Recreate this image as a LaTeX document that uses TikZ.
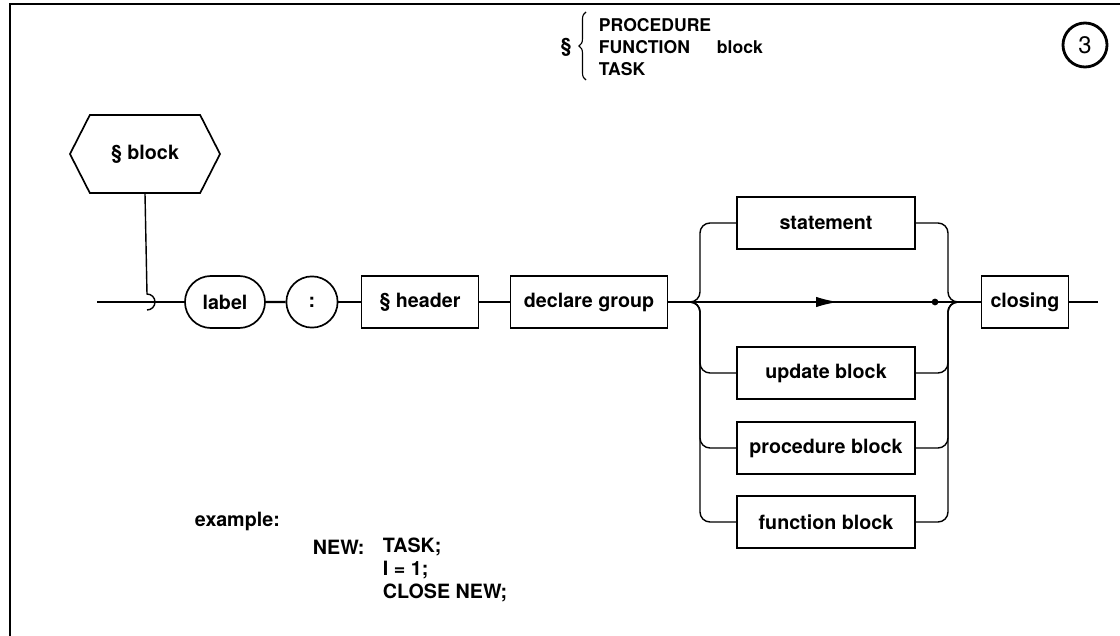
\documentclass[tikz,border=0pt]{standalone}
\usepackage{fontspec}
\setmainfont{TeX Gyre Heros}
\usetikzlibrary{shapes.misc, shapes.symbols, decorations.pathreplacing, arrows.meta}

\begin{document}
\begin{tikzpicture}[x=0.025cm, y=-0.025cm,
    font=\fontsize{14}{16}\selectfont\bfseries,
    box/.style={draw, line width=1.2pt, minimum height=1.3cm, inner sep=0pt},
    rail/.style={line width=1pt, rounded corners=0.25cm},
    head/.style={anchor=west, font=\fontsize{12.5}{15}\selectfont\bfseries}]
    \useasboundingbox (0,0) rectangle (1120,636);

    % Frame
    \draw [line width=1.4pt] (1120,4) -- (10,4) -- (10,636);

    % Title
    \node (sect) at (566,47) {\S};
    \draw [decorate, decoration={brace, amplitude=5pt}, line width=0.8pt]
          (586,80) -- (586,12);
    \node [head] (proc) at (594,25) {PROCEDURE};
    \node [head] (func) at (594,47) {FUNCTION};
    \node [head] (task) at (594,69) {TASK};
    \node [head] (blockword) at (712,47) {block};
    \node [draw, circle, line width=2pt, minimum size=1.1cm, inner sep=0pt,
           font=\fontsize{17}{19}\selectfont] (num) at (1085,45) {3};

    % Entry
    \node [box, signal, signal to=east and west, signal pointer angle=126,
           minimum width=3.75cm, minimum height=1.95cm] (blk) at (145,154) {\S\ block};
    \path (97,302) coordinate (start);
    \draw [line width=1pt] (blk.south) -- (147,294)
          arc [start angle=-90, end angle=90, radius=8];

    % Sequence
    \node [box, rounded rectangle, minimum width=2cm] (lbl) at (225,302) {label};
    \node [box, circle, minimum size=1.28cm] (colon) at (312,302) {:};
    \node [box, minimum width=2.93cm] (hdr) at (420,302) {\S\ header};
    \node [box, minimum width=3.93cm] (dg) at (589,302) {declare group};
    \draw [line width=1pt] (start) -- (lbl);
    \draw [line width=1.6pt] (lbl) -- (colon);
    \draw [line width=1.6pt] (colon) -- (hdr);
    \draw [line width=1pt] (hdr) -- (dg);

    % Alternatives
    \foreach \n/\t/\y in {st/statement/223, up/update block/373,
                          pr/procedure block/448, fn/function block/522} {
      \node [box, minimum width=4.45cm] (\n) at (826,\y) {\t};
      \draw [rail] (dg.east) -| (700,\y) -- (\n.west);
      \draw [rail] (\n.east) -| (948,302) -- (968,302);
    }
    \draw [line width=1pt, -{Latex[length=0.55cm, width=0.26cm]}] (dg.east) -- (838,302);
    \node [box, minimum width=2.18cm] (cl) at (1025,302) {closing};
    \draw [line width=1pt] (dg.east) -- (cl.west);
    \fill (935,302) circle [radius=2.4pt];
    \path (1098,302) coordinate (end);
    \draw [line width=1pt] (cl.east) -- (end);

    % Example
    \node [anchor=west] (ex) at (190,521) {example:};
    \node [anchor=west] (new) at (308,547) {NEW:};
    \node [anchor=west] (l1) at (378,547) {TASK;};
    \node [anchor=west] (l2) at (378,570) {I = 1;};
    \node [anchor=west] (l3) at (378,593) {CLOSE NEW;};
\end{tikzpicture}
\end{document}
